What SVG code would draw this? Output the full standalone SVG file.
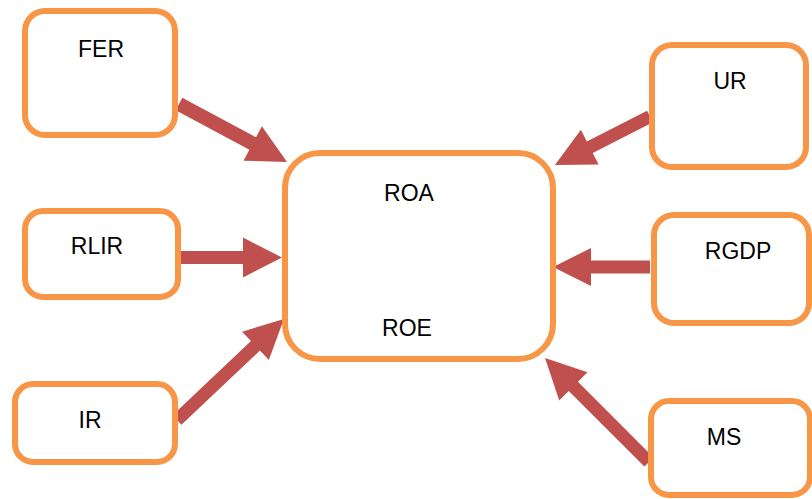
<svg xmlns="http://www.w3.org/2000/svg" width="812" height="499" viewBox="0 0 812 499">
<style>
.box{fill:#FFFFFF;stroke:#F79646;stroke-width:6}
.lbl{font-family:"Liberation Sans",Arial,sans-serif;font-size:23px;fill:#000000;text-anchor:middle}
.arr{fill:#C0504D;stroke:none}
</style>
<rect width="812" height="499" fill="#FFFFFF"/>
<g id="connectors">
<polygon class="arr" transform="translate(179,104) rotate(28.2)" points="0,-7 83.6,-7 83.6,-19.5 122.6,0 83.6,19.5 83.6,7 0,7"/>
<polygon class="arr" transform="translate(181,257.5)" points="0,-6.5 62,-6.5 62,-20 101,0 62,20 62,6.5 0,6.5"/>
<polygon class="arr" transform="translate(177,420) rotate(-43.4)" points="0,-6.5 108,-6.5 108,-19.5 147.1,0 108,19.5 108,6.5 0,6.5"/>
<polygon class="arr" transform="translate(650,116.5) rotate(153)" points="0,-6.5 67.6,-6.5 67.6,-19.5 106.7,0 67.6,19.5 67.6,6.5 0,6.5"/>
<polygon class="arr" transform="translate(650,267) rotate(180)" points="0,-6.5 59,-6.5 59,-19 97,0 59,19 59,6.5 0,6.5"/>
<polygon class="arr" transform="translate(649,462) rotate(-135)" points="0,-6.5 107,-6.5 107,-20 147,0 107,20 107,6.5 0,6.5"/>
</g>
<g id="node-roa">
<rect class="box" x="285" y="153" width="268" height="206" rx="35" ry="35"/>
<text class="lbl" x="409" y="201">ROA</text>
<text class="lbl" x="407" y="336">ROE</text>
</g>
<g id="node-fer">
<rect class="box" x="25" y="11" width="150" height="124" rx="20" ry="20"/>
<text class="lbl" x="101" y="57">FER</text>
</g>
<g id="node-rlir">
<rect class="box" x="25" y="211" width="153" height="86" rx="18" ry="18"/>
<text class="lbl" x="97" y="254">RLIR</text>
</g>
<g id="node-ir">
<rect class="box" x="15" y="384" width="160" height="78" rx="18" ry="18"/>
<text class="lbl" x="90" y="428">IR</text>
</g>
<g id="node-ur">
<rect class="box" x="652" y="45" width="154" height="122" rx="20" ry="20"/>
<text class="lbl" x="730" y="89">UR</text>
</g>
<g id="node-rgdp">
<rect class="box" x="654" y="215" width="155" height="108" rx="20" ry="20"/>
<text class="lbl" x="738" y="259">RGDP</text>
</g>
<g id="node-ms">
<rect class="box" x="651" y="401" width="159" height="94" rx="18" ry="18"/>
<text class="lbl" x="724" y="445">MS</text>
</g>
</svg>
